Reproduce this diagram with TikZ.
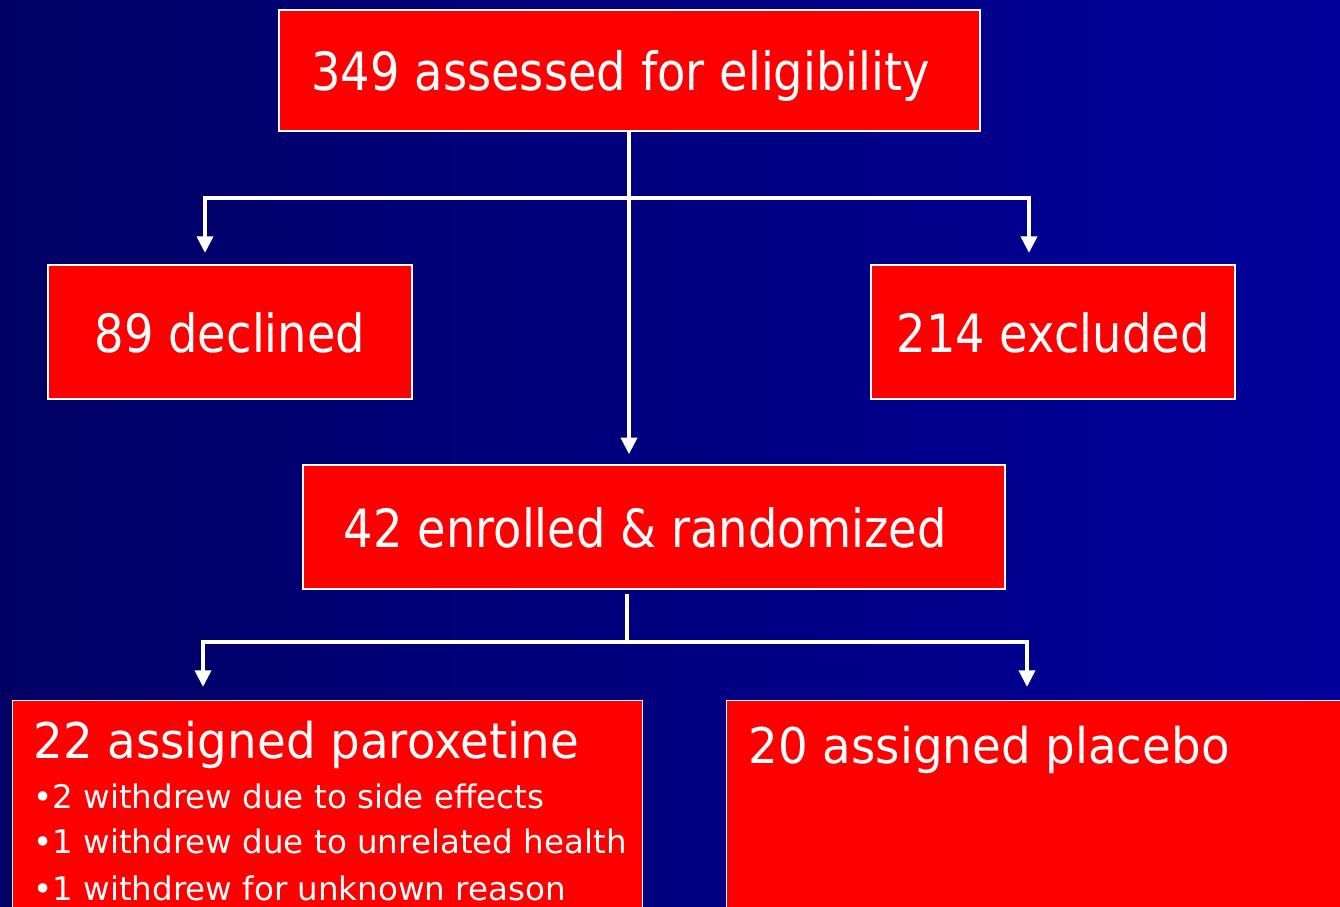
\documentclass[tikz,border=0pt]{standalone}
\usepackage{fontspec}
\setmainfont{DejaVu Sans}[FakeStretch=0.88]
\newfontfamily\headfont{DejaVu Sans}[FakeStretch=0.95]
\newfontfamily\notefont{DejaVu Sans}
\usetikzlibrary{arrows.meta}

\definecolor{navyleft}{RGB}{0,0,100}
\definecolor{navyright}{RGB}{0,0,155}
\definecolor{boxred}{RGB}{255,0,0}

\tikzset{
  box/.style={draw=white, line width=0.8pt, fill=boxred, text=white,
    font=\fontsize{30}{36}\selectfont, inner sep=0pt, text depth=0pt},
  head/.style={text=white, inner sep=0pt, font=\headfont\fontsize{28}{34}\selectfont},
  note/.style={text=white, inner sep=0pt, font=\notefont\fontsize{18.5}{22}\selectfont},
  link/.style={draw=white, line width=2.8pt},
  arrow/.style={link, -{Triangle[width=9pt,length=9.5pt]}}
}

\begin{document}
\begin{tikzpicture}
    % Background
    \shade[left color=navyleft, right color=navyright] (0,0) rectangle (26.8,-18.12);
    \useasboundingbox (0,0) rectangle (26.8,-18.12);
    \clip (0,0) rectangle (26.8,-18.12);

    % Boxes
    \node[box, minimum width=14.02cm, minimum height=2.42cm] (assess) at (12.59,-1.41) {349 assessed for eligibility\hspace*{0.35cm}};
    \node[box, minimum width=7.28cm, minimum height=2.68cm] (declined) at (4.6,-6.64) {89 declined};
    \node[box, minimum width=7.28cm, minimum height=2.68cm] (excluded) at (21.06,-6.64) {214 excluded};
    \node[box, minimum width=14.04cm, minimum height=2.48cm] (enrolled) at (13.08,-10.54) {42 enrolled \& randomized\hspace*{0.35cm}};
    \node[box, anchor=north west, minimum width=12.6cm, minimum height=5cm] (parox) at (0.24,-14) {};
    \node[box, anchor=north west, minimum width=13cm, minimum height=5cm] (placebo) at (14.52,-14) {};

    % Arms
    \node[head, anchor=base west] (paroxhead) at (0.66,-15.16) {22 assigned paroxetine};
    \node[note, anchor=base west] (paroxside) at (0.66,-16.16) {•2 withdrew due to side effects};
    \node[note, anchor=base west] (paroxhealth) at (0.66,-17.06) {•1 withdrew due to unrelated health};
    \node[note, anchor=base west] (paroxunknown) at (0.66,-18.0) {•1 withdrew for unknown reason};
    \node[head, anchor=base west] (placebohead) at (14.96,-15.26) {20 assigned placebo};

    % Screening split
    \coordinate (fork) at (12.58,-3.96);
    \coordinate (declinedtip) at (4.1,-5.06);
    \coordinate (excludedtip) at (20.58,-5.06);
    \draw[arrow, shorten >=0.2cm] (assess.south -| fork) -- (fork |- enrolled.north);
    \draw[arrow] (fork) -| (declinedtip);
    \draw[arrow] (fork) -| (excludedtip);

    % Randomization split
    \coordinate (split) at (12.54,-12.84);
    \coordinate (paroxtip) at (4.06,-13.74);
    \coordinate (placebotip) at (20.54,-13.74);
    \draw[link] ([yshift=-0.08cm]enrolled.south -| split) -- (split);
    \draw[arrow] (split) -| (paroxtip);
    \draw[arrow] (split) -| (placebotip);
\end{tikzpicture}
\end{document}
